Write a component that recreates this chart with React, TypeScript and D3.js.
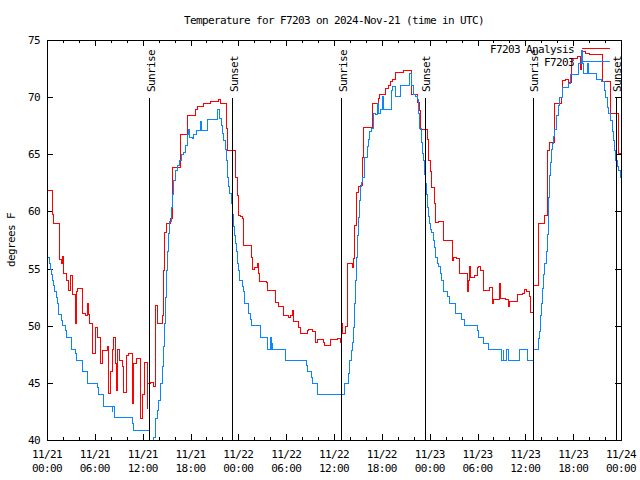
import React from "react";
import * as d3 from "d3";

// ---- Data (hours since 2024-11-21 00:00 UTC) ----
const analysisHours = [
  0, 0.05, 0.59, 0.79, 1.55, 1.8, 1.9, 2.05, 2.38, 2.6, 2.68, 2.89, 3.1, 3.51, 3.62, 3.72, 4.35, 4.77, 5.06, 5.2,
  5.31, 5.6, 6.02, 6.23, 6.65, 6.86, 7.49, 7.69, 7.9, 8.11, 8.32, 8.53, 8.7, 8.82, 9.07, 9.37, 9.57, 9.91, 10.2, 10.62,
  10.83, 11.16, 11.67, 11.88, 12.17, 12.5, 12.6, 12.92, 13.26, 13.55, 13.76, 14.46, 14.51, 14.68, 14.93, 15.43, 15.64, 16.68, 17.52, 18.56,
  18.78, 19.61, 20.45, 21.49, 21.7, 22.45, 22.62, 23.58, 23.79, 24.0, 24.2, 24.42, 24.55, 25.55, 25.68, 26.0, 26.3, 26.51, 26.63, 27.35,
  27.5, 27.64, 28.6, 29.01, 29.56, 30.2, 30.5, 30.69, 30.82, 31.52, 31.74, 32.57, 32.8, 33.2, 33.62, 33.91, 34.6, 34.75, 35.5, 36.42,
  36.7, 36.88, 37.04, 37.38, 37.59, 37.67, 38.22, 38.42, 38.51, 38.76, 39.05, 39.3, 39.55, 39.68, 40.73, 41.56, 41.68, 42.4, 42.81, 43.0,
  43.24, 43.65, 44.62, 45.66, 46.45, 46.62, 46.79, 47.63, 47.83, 48.04, 48.17, 48.58, 48.71, 49.1, 49.63, 49.71, 50.76, 50.9, 51.3, 51.72,
  52.65, 52.75, 52.98, 53.06, 53.5, 53.9, 54.1, 54.3, 54.65, 55.4, 55.78, 55.9, 56.74, 56.85, 57.5, 57.86, 57.95, 58.91, 59.6, 59.87,
  60.1, 60.4, 60.59, 60.92, 61.63, 62.38, 62.68, 62.97, 63.64, 64.48, 64.64, 65.0, 65.4, 65.73, 66.44, 66.85, 66.95, 67.49, 68.03, 69.58,
  70.62, 71.67, 72,
];
const analysisTemps = [
  62.8, 61.9, 59.8, 59.0, 55.8, 55.5, 56.1, 54.6, 54.0, 53.4, 53.1, 54.4, 52.8, 50.2, 53.0, 53.3, 51.1, 50.9, 52.0, 51.0,
  50.2, 47.6, 49.9, 49.0, 46.7, 47.9, 48.2, 44.1, 46.0, 48.0, 49.0, 46.7, 44.4, 48.0, 47.0, 46.5, 44.2, 47.4, 47.6, 43.2,
  46.7, 47.2, 41.9, 44.0, 46.8, 42.8, 45.0, 45.1, 44.7, 51.8, 50.2, 50.9, 54.9, 58.2, 59.0, 59.4, 63.9, 66.8, 68.4, 69.0,
  69.2, 69.5, 69.7, 69.8, 69.5, 67.3, 65.4, 63.0, 61.4, 59.7, 59.6, 59.4, 57.1, 56.0, 55.0, 55.1, 55.5, 54.6, 53.9, 53.9,
  53.8, 53.1, 52.1, 51.7, 50.9, 50.8, 50.9, 51.4, 50.4, 49.9, 49.4, 49.6, 49.7, 49.5, 48.6, 48.8, 48.6, 48.3, 48.8, 48.9,
  48.6, 50.2, 49.4, 50.0, 52.8, 55.5, 55.1, 55.9, 58.8, 61.7, 62.2, 62.3, 64.8, 67.4, 69.5, 69.9, 70.3, 70.8, 71.1, 71.4,
  71.6, 72.2, 72.4, 70.3, 69.6, 68.9, 67.2, 66.3, 64.5, 63.5, 62.1, 60.7, 59.1, 59.2, 58.4, 57.5, 55.75, 56.0, 55.9, 54.6,
  53.0, 54.0, 55.2, 54.3, 54.4, 55.1, 55.2, 54.9, 53.1, 53.4, 52.0, 52.3, 53.7, 52.4, 52.3, 51.7, 52.2, 52.8, 52.9, 53.2,
  53.0, 52.6, 51.2, 53.6, 59.0, 59.7, 65.4, 66.05, 69.5, 70.0, 71.5, 71.6, 71.3, 73.4, 73.6, 72.5, 74.0, 73.9, 73.75, 71.4,
  68.6, 65.1, 65.1,
];

const stationHours = [
  0, 0.04, 0.25, 0.4, 0.5, 0.65, 0.79, 0.92, 1.09, 1.21, 1.34, 1.76, 1.92, 2.2, 2.34, 3.01, 3.51, 3.64, 4.35, 5.06,
  6.23, 6.36, 7.06, 8.11, 8.2, 8.4, 10.62, 10.75, 12.79, 13.34, 13.55, 13.76, 13.96, 14.17, 14.38, 14.59, 14.72, 14.8, 14.93, 15.1,
  15.22, 15.35, 15.52, 15.64, 15.85, 16.06, 16.27, 16.6, 16.77, 17.02, 17.31, 17.6, 17.7, 17.8, 18.15, 18.35, 18.69, 19.19, 19.3, 20.03,
  21.29, 21.61, 21.79, 21.95, 22.12, 22.33, 22.45, 22.62, 22.74, 22.87, 23.04, 23.17, 23.29, 23.46, 23.58, 23.71, 23.88, 24.0, 24.13, 24.4,
  24.55, 24.71, 25.25, 25.46, 25.59, 26.72, 27.56, 27.64, 27.97, 28.05, 28.1, 28.18, 29.85, 32.49, 32.57, 33.08, 33.2, 33.83, 37.26, 37.8,
  37.92, 38.09, 38.22, 38.34, 38.51, 38.63, 38.76, 38.93, 39.05, 39.18, 39.26, 39.4, 39.55, 39.8, 40.1, 40.3, 40.43, 40.6, 40.85, 41.1,
  41.36, 41.5, 41.77, 41.98, 42.1, 43.15, 43.3, 43.65, 44.28, 45.45, 45.61, 45.87, 46.16, 46.37, 46.58, 46.7, 46.87, 47.0, 47.2, 47.29,
  47.42, 47.54, 47.7, 47.83, 47.96, 48.04, 48.13, 48.38, 48.54, 48.67, 48.88, 49.08, 49.3, 49.38, 49.71, 50.2, 50.47, 51.18, 51.9, 52.35,
  53.9, 54.02, 54.73, 55.36, 56.9, 57.16, 57.24, 57.58, 57.86, 59.24, 60.25, 60.92, 61.55, 61.72, 61.84, 61.97, 62.13, 62.26, 62.38, 62.56,
  62.68, 62.81, 62.89, 62.97, 63.1, 63.22, 63.31, 63.51, 63.64, 63.81, 64.06, 64.23, 64.65, 65.31, 65.6, 66.65, 66.95, 67.07, 67.28, 67.7,
  67.8, 68.87, 69.5, 69.87, 69.99, 70.2, 70.41, 70.62, 70.83, 70.95, 71.12, 71.24, 71.45, 71.66, 71.87, 72,
];
const stationTemps = [
  57.5, 56.0, 55.5, 55.0, 54.5, 54.0, 53.6, 53.0, 52.5, 52.0, 51.0, 50.5, 50.1, 49.6, 49.0, 48.0, 47.6, 47.0, 46.0, 45.0,
  44.6, 44.0, 43.0, 42.5, 43.0, 42.0, 41.5, 40.9, 39.5, 40.3, 41.9, 42.6, 43.5, 45.0, 46.5, 48.2, 50.2, 52.5, 54.9, 56.5,
  58.1, 59.2, 60.4, 61.5, 62.75, 63.6, 64.1, 64.5, 65.0, 65.2, 65.8, 66.8, 67.2, 66.5, 66.4, 66.8, 67.1, 67.9, 67.1, 68.1,
  69.0, 68.2, 67.6, 66.9, 66.25, 65.5, 64.5, 63.0, 62.2, 61.6, 60.7, 59.8, 58.7, 57.9, 57.2, 56.5, 55.5, 54.9, 54.0, 53.5,
  53.0, 52.0, 51.1, 50.6, 50.1, 49.0, 48.6, 48.0, 49.0, 48.0, 48.5, 48.0, 47.0, 46.6, 46.0, 45.5, 45.0, 44.0, 45.0, 45.9,
  47.0, 47.9, 48.6, 49.9, 52.0, 54.0, 56.0, 57.9, 59.5, 61.0, 62.2, 62.6, 63.0, 64.8, 65.7, 66.3, 67.0, 67.3, 68.6, 68.5,
  69.5, 68.6, 69.0, 70.1, 69.0, 70.6, 71.0, 70.1, 71.1, 72.1, 71.1, 70.3, 70.1, 69.8, 68.6, 67.3, 66.1, 65.1, 64.5, 63.3,
  62.5, 61.5, 60.4, 59.6, 59.0, 58.5, 58.2, 57.5, 56.9, 56.0, 55.5, 55.2, 54.6, 54.0, 53.0, 52.6, 52.0, 51.1, 50.6, 50.1,
  49.6, 49.0, 48.5, 48.0, 47.0, 48.0, 47.0, 48.0, 47.0, 48.0, 47.0, 48.0, 48.9, 49.5, 50.9, 52.0, 53.3, 54.5, 55.5, 56.5,
  58.0, 59.5, 61.3, 63.2, 64.3, 65.5, 66.0, 66.6, 67.2, 68.4, 69.3, 70.0, 70.9, 71.2, 72.0, 73.0, 74.1, 73.0, 72.1, 73.0,
  72.1, 71.6, 71.4, 70.6, 70.0, 69.1, 68.6, 68.0, 67.0, 66.25, 65.4, 64.5, 64.0, 63.6, 63.0, 63.0,
];

const sunriseHours = [12.85, 36.93, 60.92];
const sunsetHours = [23.25, 47.38, 71.35];
const yTicks = [40, 45, 50, 55, 60, 65, 70, 75];
const xMajorHours = [0, 6, 12, 18, 24, 30, 36, 42, 48, 54, 60, 66, 72];
const xDateLabels = ["11/21", "11/21", "11/21", "11/21", "11/22", "11/22", "11/22", "11/22", "11/23", "11/23", "11/23", "11/23", "11/24"];
const xTimeLabels = ["00:00", "06:00", "12:00", "18:00", "00:00", "06:00", "12:00", "18:00", "00:00", "06:00", "12:00", "18:00", "00:00"];
const seriesNames = ["F7203 Analysis", "F7203"];
const seriesColors = ["#ff0000", "#0a84ff"];
const titleText = "Temperature for F7203 on 2024-Nov-21 (time in UTC)";
const yLabel = "degrees F";

const W = 640, H = 480;
const L = 47, R = 621, T = 40, B = 440;
const FONT = "'DejaVu Sans Mono', monospace";

export default function App() {
  const x = d3.scaleLinear().domain([0, 72]).range([L, R]);
  const y = d3.scaleLinear().domain([40, 75]).range([B, T]);
  const line = d3
    .line<[number, number]>()
    .x((d) => Math.round(x(d[0])) + 0.5)
    .y((d) => Math.round(y(d[1])) + 0.5)
    .curve(d3.curveStepAfter);
  const red = analysisHours.map((h, i) => [h, analysisTemps[i]] as [number, number]);
  const blue = stationHours.map((h, i) => [h, stationTemps[i]] as [number, number]);
  const minor = d3.range(0, 73, 2);
  const textStyle: React.CSSProperties = { fontFamily: FONT, fontSize: 11, letterSpacing: -0.62 };

  return (
    <svg width={W} height={H} style={{ position: "absolute", left: 0, top: 0, background: "#fff" }}>
      <defs>
        <clipPath id="plot">
          <rect x={L} y={T} width={R - L + 1} height={B - T + 1} />
        </clipPath>
      </defs>
      <rect x={0} y={0} width={W} height={H} fill="#fff" />
      <text x={(L + R) / 2} y={24} textAnchor="middle" style={textStyle}>{titleText}</text>
      <text transform={`translate(15,240) rotate(-90)`} textAnchor="middle" style={textStyle}>{yLabel}</text>

      {/* y ticks */}
      {yTicks.map((v) => (
        <g key={v} shapeRendering="crispEdges">
          <line x1={L} x2={L + 6} y1={Math.round(y(v)) + 0.5} y2={Math.round(y(v)) + 0.5} stroke="#000" />
          <line x1={R - 6} x2={R} y1={Math.round(y(v)) + 0.5} y2={Math.round(y(v)) + 0.5} stroke="#000" />
          <text x={40} y={y(v) + 4} textAnchor="end" style={textStyle}>{v}</text>
        </g>
      ))}
      {/* x ticks */}
      {minor.map((h) => {
        const len = h % 6 === 0 ? 6 : 3;
        const px = Math.round(x(h)) + 0.5;
        return (
          <g key={h} shapeRendering="crispEdges">
            <line x1={px} x2={px} y1={B} y2={B - len} stroke="#000" />
            <line x1={px} x2={px} y1={T} y2={T + len} stroke="#000" />
          </g>
        );
      })}
      {xMajorHours.map((h, i) => (
        <g key={h}>
          <text x={x(h)} y={458} textAnchor="middle" style={textStyle}>{xDateLabels[i]}</text>
          <text x={x(h)} y={472} textAnchor="middle" style={textStyle}>{xTimeLabels[i]}</text>
        </g>
      ))}

      {/* data */}
      <g clipPath="url(#plot)" shapeRendering="crispEdges">
        <path d={line(red) || ""} fill="none" stroke={seriesColors[0]} strokeWidth={1} />
        <path d={line(blue) || ""} fill="none" stroke={seriesColors[1]} strokeWidth={1} />
      </g>

      {/* sunrise / sunset */}
      {sunriseHours.map((h) => (
        <g key={"sr" + h}>
          <line x1={Math.round(x(h)) + 0.5} x2={Math.round(x(h)) + 0.5} y1={98} y2={B} stroke="#000" shapeRendering="crispEdges" />
          <text transform={`translate(${x(h) + 5.5},92) rotate(-90)`} textAnchor="start" style={textStyle}>Sunrise</text>
        </g>
      ))}
      {sunsetHours.map((h) => (
        <g key={"ss" + h}>
          <line x1={Math.round(x(h)) + 0.5} x2={Math.round(x(h)) + 0.5} y1={98} y2={B} stroke="#000" shapeRendering="crispEdges" />
          <text transform={`translate(${x(h) + 5.5},92) rotate(-90)`} textAnchor="start" style={textStyle}>Sunset</text>
        </g>
      ))}

      {/* legend */}
      {seriesNames.map((n, i) => (
        <g key={n}>
          <text x={574} y={53 + i * 13} textAnchor="end" style={textStyle}>{n}</text>
          <line x1={582} x2={610} y1={48.5 + i * 13} y2={48.5 + i * 13} stroke={seriesColors[i]} shapeRendering="crispEdges" />
        </g>
      ))}

      <rect x={L + 0.5} y={T + 0.5} width={R - L} height={B - T} fill="none" stroke="#000" shapeRendering="crispEdges" />
    </svg>
  );
}
